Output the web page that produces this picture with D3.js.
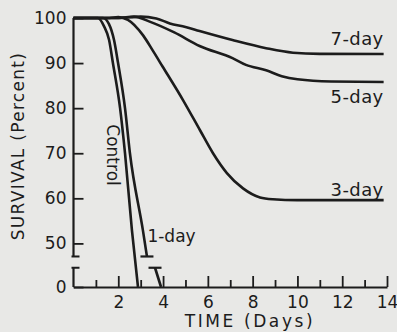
<!DOCTYPE html>
<html>
<head>
<meta charset="utf-8">
<script src="https://cdn.jsdelivr.net/npm/d3@7"></script>
<style>
  body { margin: 0; background: #e8e8e6; }
  svg { display: block; }
  text { font-family: "DejaVu Sans", sans-serif; fill: #1c1c1c; }
</style>
</head>
<body>
<svg id="chart" width="397" height="332"></svg>
<script>
// survival curves, [day, percent]
var control = [[0,100],[1.09,100],[1.36,98.2],[1.59,95.1],[1.76,90],[2.08,80],[2.30,70],[2.61,52.9],[2.88,0]]
var oneDayUpper = [[0,100],[1.32,100],[1.58,98.7],[1.81,95.1],[1.99,90],[2.30,80],[2.52,70],[3.10,52.9],[3.28,47.1]]
var oneDayLower = [[3.64,44.6],[3.91,0]]
var threeDay = [[0,100],[1.6,100],[2.0,100.2],[2.43,99.6],[3.10,96.2],[3.55,92.7],[3.97,89.3],[4.89,81.8],[5.65,75.1],[6.23,70],[6.85,65.6],[7.57,62.2],[8.33,60.2],[8.9,59.8],[10,59.6],[13.85,59.6]]
var fiveDay = [[0,100],[2,100],[2.7,100.3],[3.4,99.2],[4.5,96.8],[5.63,93.8],[7.1,91.1],[7.7,89.6],[8.6,88.4],[9.3,87.1],[10,86.4],[11.5,85.9],[13.85,85.8]]
var sevenDay = [[0,100],[2,100],[3,100.3],[3.7,99.9],[4.3,98.8],[5,98],[5.63,97.1],[7.1,95.1],[8.6,93.3],[9.8,92.3],[11,92.05],[13.85,92]]

var yTicks = [0, 50, 60, 70, 80, 90, 100]
var xTicks = [1,2,3,4,5,6,7,8,9,10,11,12,13,14]
var yBreak = [44.6, 47.1]   // axis is cut between these values

var ink = "#1c1c1c"
var svg = d3.select("svg#chart")

var xScale = d3.scaleLinear().domain([0, 14]).range([73.5, 387])
// broken y axis: 0 sits just below the cut
var yScale = d3.scaleLinear().domain([0, yBreak[0], 100]).range([287, 267.75, 18])

var x0 = xScale(0)

// x axis
var xAxis = svg.append("g")
    .attr("transform", "translate(0," + yScale(0) + ")")
    .style("color", ink)
    .call(d3.axisBottom(xScale)
        .tickValues(xTicks)
        .tickSizeInner(-11)
        .tickSizeOuter(0)
        .tickPadding(9)
        .tickFormat(function(d) { return d % 2 == 0 ? d : ""; }))
xAxis.select(".domain").attr("stroke-width", 2.2)
xAxis.selectAll(".tick line")
    .attr("stroke-width", 1.8)
    .attr("y2", function(d) { return d % 2 == 0 ? -11 : -7; })
xAxis.selectAll("text").attr("font-size", "17px").attr("font-family", "DejaVu Sans")

// y axis (ticks only, the line is drawn in two pieces below)
var yAxis = svg.append("g")
    .attr("transform", "translate(" + x0 + ",0)")
    .style("color", ink)
    .call(d3.axisLeft(yScale)
        .tickValues(yTicks)
        .tickSizeInner(-10)
        .tickSizeOuter(0)
        .tickPadding(7))
yAxis.select(".domain").remove()
yAxis.selectAll(".tick line").attr("stroke-width", 1.8)
yAxis.selectAll("text").attr("font-size", "17px").attr("font-family", "DejaVu Sans")

var axisPieces = [[100, yBreak[1]], [yBreak[0], 0]]
svg.selectAll(".ypiece")
    .data(axisPieces)
    .enter()
    .append("line")
    .attr("class", "ypiece")
    .attr("x1", x0).attr("x2", x0)
    .attr("y1", function(d) { return yScale(d[0]); })
    .attr("y2", function(d) { return yScale(d[1]); })
    .attr("stroke", ink)
    .attr("stroke-width", 2.2)

// little serifs at the cut
svg.selectAll(".yserif")
    .data(yBreak)
    .enter()
    .append("line")
    .attr("class", "yserif")
    .attr("x1", x0 - 2).attr("x2", x0 + 6)
    .attr("y1", function(d) { return yScale(d); })
    .attr("y2", function(d) { return yScale(d); })
    .attr("stroke", ink)
    .attr("stroke-width", 2)

// curves
const line = d3.line()
    .x(d => xScale(d[0]))
    .y(d => yScale(d[1]))
    .curve(d3.curveMonotoneX)

var curves = [control, oneDayUpper, oneDayLower, threeDay, fiveDay, sevenDay]
svg.selectAll(".curve")
    .data(curves)
    .enter()
    .append("path")
    .attr("class", "curve")
    .attr("d", line)
    .attr("fill", "none")
    .attr("stroke", ink)
    .attr("stroke-width", 2.6)
    .attr("stroke-linejoin", "round")

// caps where the 1-day curve is cut
var caps = [oneDayUpper[oneDayUpper.length - 1], oneDayLower[0]]
svg.selectAll(".cap")
    .data(caps)
    .enter()
    .append("line")
    .attr("class", "cap")
    .attr("x1", function(d) { return xScale(d[0]) - 6.5; })
    .attr("x2", function(d) { return xScale(d[0]) + 6.5; })
    .attr("y1", function(d) { return yScale(d[1]); })
    .attr("y2", function(d) { return yScale(d[1]); })
    .attr("stroke", ink)
    .attr("stroke-width", 2.2)

// curve labels
var last = function(s) { return s[s.length - 1]; }
svg.append("text")
    .attr("x", xScale(last(sevenDay)[0])).attr("y", yScale(last(sevenDay)[1]) - 9)
    .attr("text-anchor", "end").attr("font-size", "18px").attr("letter-spacing", "0.4px")
    .text("7-day")
svg.append("text")
    .attr("x", xScale(last(fiveDay)[0])).attr("y", yScale(last(fiveDay)[1]) + 21)
    .attr("text-anchor", "end").attr("font-size", "18px").attr("letter-spacing", "0.4px")
    .text("5-day")
svg.append("text")
    .attr("x", xScale(last(threeDay)[0])).attr("y", yScale(last(threeDay)[1]) - 4)
    .attr("text-anchor", "end").attr("font-size", "18px").attr("letter-spacing", "0.4px")
    .text("3-day")
svg.append("text")
    .attr("x", xScale(3.3)).attr("y", yScale(50.4))
    .attr("font-size", "17px")
    .text("1-day")
svg.append("text")
    .attr("transform", "translate(" + (xScale(1.77) - 6) + "," + yScale(69.6) + ") rotate(90)")
    .attr("text-anchor", "middle")
    .attr("font-size", "17px")
    .text("Control")

// axis titles
svg.append("text")
    .attr("x", 250).attr("y", 327)
    .attr("text-anchor", "middle")
    .attr("font-size", "17px")
    .attr("letter-spacing", "2.6px")
    .text("TIME (Days)")
svg.append("text")
    .attr("transform", "translate(24,146) rotate(-90)")
    .attr("text-anchor", "middle")
    .attr("font-size", "17px")
    .attr("letter-spacing", "1.3px")
    .text("SURVIVAL (Percent)")
</script>
</body>
</html>
